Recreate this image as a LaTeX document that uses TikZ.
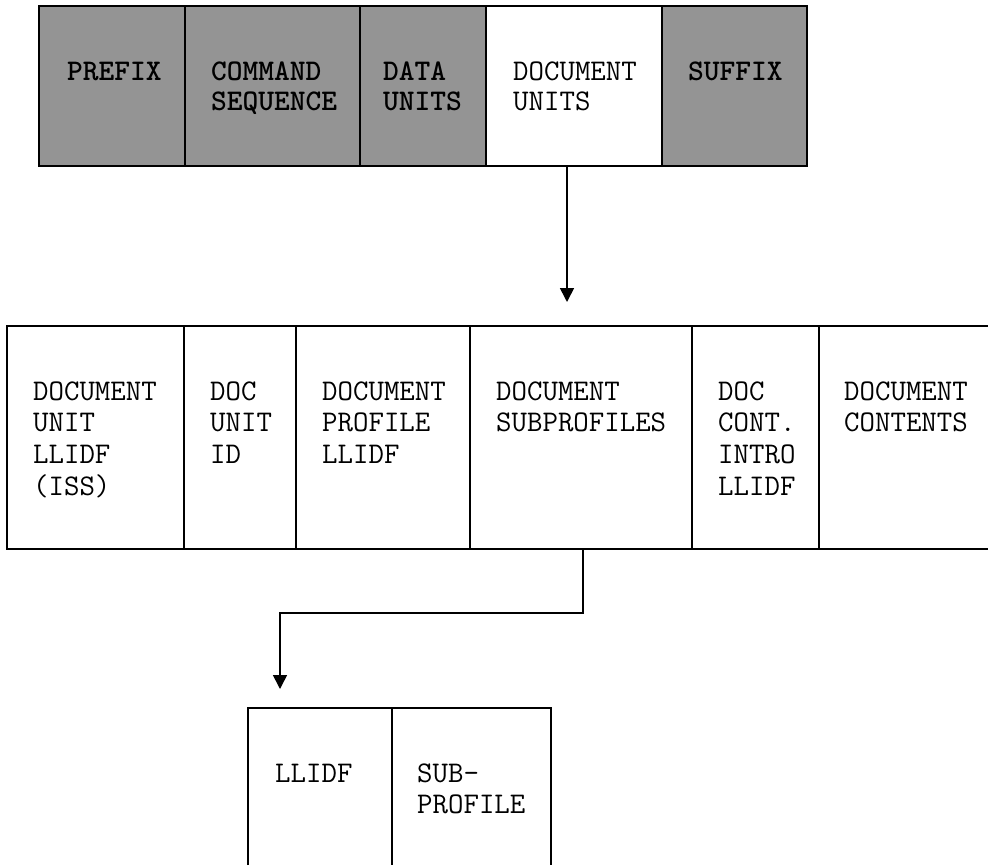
\documentclass[tikz,border=0pt]{standalone}
\usetikzlibrary{arrows.meta}
\definecolor{shade}{gray}{0.58}
\newcommand\mlines[1]{\begin{tabular}[t]{@{}l@{}}#1\end{tabular}}
\begin{document}
\begin{tikzpicture}[x=1pt,y=-1pt,
  cell/.style={rectangle, inner sep=0pt, outer sep=0pt, anchor=north west, line width=1.6pt},
  boxed/.style={cell, draw=black},
  shaded/.style={boxed, fill=shade},
  toprow/.style={minimum height=160pt},
  midrow/.style={minimum height=223pt},
  botrow/.style={minimum height=157pt},
  lbl/.style={anchor=base west, inner sep=0pt, font=\ttfamily\fontsize{30}{31.7}\selectfont},
  hlbl/.style={lbl, font=\ttfamily\bfseries\fontsize{30}{30}\selectfont},
  tlbl/.style={lbl, font=\ttfamily\fontsize{30}{30}\selectfont},
  conn/.style={line width=1.6pt, -{Triangle[width=14pt,length=14pt]}}]
\useasboundingbox (0,0) rectangle (988,865);

% top row
\node[shaded, toprow, minimum width=146pt] (prefix) at (39,6) {};
\node[shaded, toprow, minimum width=175pt] (cmdseq) at (185,6) {};
\node[shaded, toprow, minimum width=126pt] (dataunits) at (360,6) {};
\node[boxed, toprow, minimum width=176pt, fill=white] (docunits) at (486,6) {};
\node[shaded, toprow, minimum width=145pt] (suffix) at (662,6) {};

\node[hlbl] (tprefix) at ([shift={(28,74)}]prefix.north west) {PREFIX};
\node[hlbl] (tcmdseq) at ([shift={(26,74)}]cmdseq.north west) {\mlines{COMMAND\\SEQUENCE}};
\node[hlbl] (tdataunits) at ([shift={(23,74)}]dataunits.north west) {\mlines{DATA\\UNITS}};
\node[tlbl] (tdocunits) at ([shift={(27,74)}]docunits.north west) {\mlines{DOCUMENT\\UNITS}};
\node[hlbl] (tsuffix) at ([shift={(26,74)}]suffix.north west) {SUFFIX};

% middle row
\node[boxed, midrow, minimum width=177pt] (duiss) at (7,326) {};
\node[boxed, midrow, minimum width=112pt] (docid) at (184,326) {};
\node[boxed, midrow, minimum width=174pt] (profile) at (296,326) {};
\node[boxed, midrow, minimum width=222pt] (subprof) at (470,326) {};
\node[boxed, midrow, minimum width=127pt] (intro) at (692,326) {};
\node[cell, midrow, minimum width=169pt] (contents) at (819,326) {};
\draw[line width=1.6pt] (contents.north west) -- (contents.north east);
\draw[line width=1.6pt] (contents.south west) -- (contents.south east);

\node[lbl] (tduiss) at ([shift={(26,74)}]duiss.north west) {\mlines{DOCUMENT\\UNIT\\LLIDF\\(ISS)}};
\node[lbl] (tdocid) at ([shift={(26,74)}]docid.north west) {\mlines{DOC\\UNIT\\ID}};
\node[lbl] (tprofile) at ([shift={(26,74)}]profile.north west) {\mlines{DOCUMENT\\PROFILE\\LLIDF}};
\node[lbl] (tsubprof) at ([shift={(26,74)}]subprof.north west) {\mlines{DOCUMENT\\SUBPROFILES}};
\node[lbl] (tintro) at ([shift={(26,74)}]intro.north west) {\mlines{DOC\\CONT.\\INTRO\\LLIDF}};
\node[lbl] (tcontents) at ([shift={(25,74)}]contents.north west) {\mlines{DOCUMENT\\CONTENTS}};

% bottom row (open at the bottom)
\node[cell, botrow, minimum width=144pt] (llidf) at (248,708) {};
\node[cell, botrow, minimum width=159pt] (subprofile) at (392,708) {};
\draw[line width=1.6pt] (llidf.south west) -- (llidf.north west) -- (subprofile.north east) -- (subprofile.south east);
\draw[line width=1.6pt] (llidf.north east) -- (llidf.south east);

\node[lbl] (tllidf) at ([shift={(27,74)}]llidf.north west) {LLIDF};
\node[lbl] (tsubprofile) at ([shift={(25,74)}]subprofile.north west) {\mlines{SUB-\\PROFILE}};

% connectors
\coordinate (a1end) at (567,302);
\draw[conn] (docunits.south -| a1end) -- (a1end);
\coordinate (a2bend) at (583,613);
\coordinate (a2end) at (280,689);
\draw[conn] (subprof.south -| a2bend) -- (a2bend) -| (a2end);
\end{tikzpicture}
\end{document}
